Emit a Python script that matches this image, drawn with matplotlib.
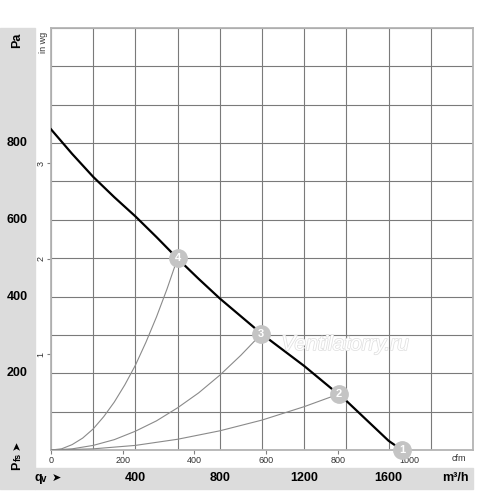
import matplotlib.pyplot as plt
import matplotlib.patheffects as pe
from matplotlib.patches import Rectangle
from matplotlib.transforms import blended_transform_factory

# Fan curve (m3/h vs Pa)
fan_q = [0, 100, 200, 300, 400, 500, 600, 700, 800, 1000, 1200, 1400, 1600, 1663]
fan_p = [836, 772, 712, 659, 609, 555, 499, 446, 395, 302, 219, 128, 24, 0]

# Operating points
point_labels = ["1", "2", "3", "4"]
point_q = [1663, 1365, 996, 600]
point_p = [0, 146, 302, 500]

# System curves through the points
sys2_q = [0, 200, 400, 600, 800, 1000, 1200, 1365]
sys2_p = [0, 3, 12, 28, 50, 78, 113, 146]
sys3_q = [0, 100, 200, 300, 400, 500, 600, 700, 800, 900, 996]
sys3_p = [0, 3, 12, 27, 49, 76, 110, 149, 195, 247, 302]
sys4_q = [0, 50, 100, 150, 200, 250, 300, 350, 400, 450, 500, 550, 600]
sys4_p = [0, 3, 14, 31, 55, 87, 125, 170, 221, 281, 347, 420, 500]

pa_ticks = [200, 400, 600, 800]
m3h_ticks = [400, 800, 1200, 1600]
cfm_ticks = [0, 200, 400, 600, 800, 1000]
inwg_ticks = [1, 2, 3]

W, H = 500, 491
fig = plt.figure(figsize=(W / 100, H / 100), dpi=100)
plt.rcParams["font.family"] = ["Liberation Sans", "DejaVu Sans"]

# gray panels behind the scale labels
panel = "#dcdcdc"
fig.patches.append(Rectangle((0, 2 / H), 35 / W, (463 - 2) / H, transform=fig.transFigure,
                             color=panel, zorder=-1))
fig.patches.append(Rectangle((35 / W, 2 / H), (473 - 35) / W, 21 / H, transform=fig.transFigure,
                             color=panel, zorder=-1))

ax = fig.add_axes([51 / W, 41 / H, (473 - 51) / W, (450 - 28) / H])
ax.set_xlim(0, 2000)
ax.set_ylim(0, 1100)
ax.set_xticks(range(0, 2001, 200))
ax.set_yticks(range(0, 1101, 100))
ax.grid(True, color="#7a7a7a", linewidth=0.8)
ax.tick_params(length=0, labelbottom=False, labelleft=False)
for s in ax.spines.values():
    s.set_color("#b4b4b4")
    s.set_linewidth(1.3)

# system curves
for q, p in [(sys2_q, sys2_p), (sys3_q, sys3_p), (sys4_q, sys4_p)]:
    ax.plot(q, p, color="#8a8a8a", linewidth=0.8, zorder=3)

# fan curve
ax.plot(fan_q, fan_p, color="black", linewidth=1.6, zorder=4)

# numbered markers
ax.plot(point_q, point_p, "o", markersize=12.5, color="#c4c4c4", zorder=6, clip_on=False)
for lab, q, p in zip(point_labels, point_q, point_p):
    ax.text(q, p, lab, color="white", fontsize=8, fontweight="bold",
            ha="center", va="center", zorder=7, clip_on=False)

# watermark
ax.text(1092, 275, "Ventilatorry.ru", fontsize=15, style="italic", color="white",
        ha="left", va="center", zorder=5,
        path_effects=[pe.withStroke(linewidth=1.1, foreground="#e0e0e0")])

# cfm scale
cfm = ax.secondary_xaxis("bottom", functions=(lambda x: x / 1.699, lambda x: x * 1.699))
cfm.set_xticks(cfm_ticks)
cfm.tick_params(length=3, width=0.8, color="#808080", labelsize=6.5, labelcolor="#333333", pad=1)
cfm.spines["bottom"].set_visible(False)
ax.text(1935, -22, "cfm", fontsize=6.5, color="#333333", ha="center", va="center")

# in wg scale
inwg = ax.secondary_yaxis("left", functions=(lambda y: y / 249.09, lambda y: y * 249.09))
inwg.set_yticks(inwg_ticks)
inwg.tick_params(length=3, width=0.8, color="#808080", labelsize=6.5, labelcolor="#333333", pad=1)
for t in inwg.get_yticklabels():
    t.set_rotation(90)
    t.set_va("center")
inwg.spines["left"].set_visible(False)
fig.text(44 / W, 1 - 42 / H, "in wg", rotation=90, fontsize=6.5, color="#333333",
         ha="center", va="center")

# Pa labels on the left panel
ty = blended_transform_factory(fig.transFigure, ax.transData)
for v in pa_ticks:
    ax.text(17 / W, v, str(v), transform=ty, fontsize=9, fontweight="bold",
            ha="center", va="center", clip_on=False)
fig.text(17 / W, 1 - 40 / H, "Pa", rotation=90, fontsize=9, fontweight="bold",
         ha="center", va="center")

# m3/h labels on the bottom band
tx = blended_transform_factory(ax.transData, fig.transFigure)
for v in m3h_ticks:
    ax.text(v, 1 - 478 / H, str(v), transform=tx, fontsize=9, fontweight="bold",
            ha="center", va="center", clip_on=False)
fig.text(455 / W, 1 - 478 / H, "m³/h", fontsize=9, fontweight="bold", ha="center", va="center")

# axis names
fig.text(38 / W, 1 - 478 / H, "q", fontsize=9, fontweight="bold", ha="center", va="center")
fig.text(44 / W, 1 - 479 / H, "v", fontsize=7, fontweight="bold", ha="center", va="center")
fig.text(56 / W, 1 - 478 / H, "➤", fontsize=8, ha="center", va="center",
         family=["DejaVu Sans"])
fig.text(17 / W, 1 - 466 / H, "P", rotation=90, fontsize=9, fontweight="bold",
         ha="center", va="center")
fig.text(18 / W, 1 - 457 / H, "fs", rotation=90, fontsize=6.5, fontweight="bold",
         ha="center", va="center")
fig.text(17 / W, 1 - 445 / H, "➤", rotation=90, fontsize=8, ha="center", va="center",
         family=["DejaVu Sans"])

fig.savefig("out.png", dpi=100)
